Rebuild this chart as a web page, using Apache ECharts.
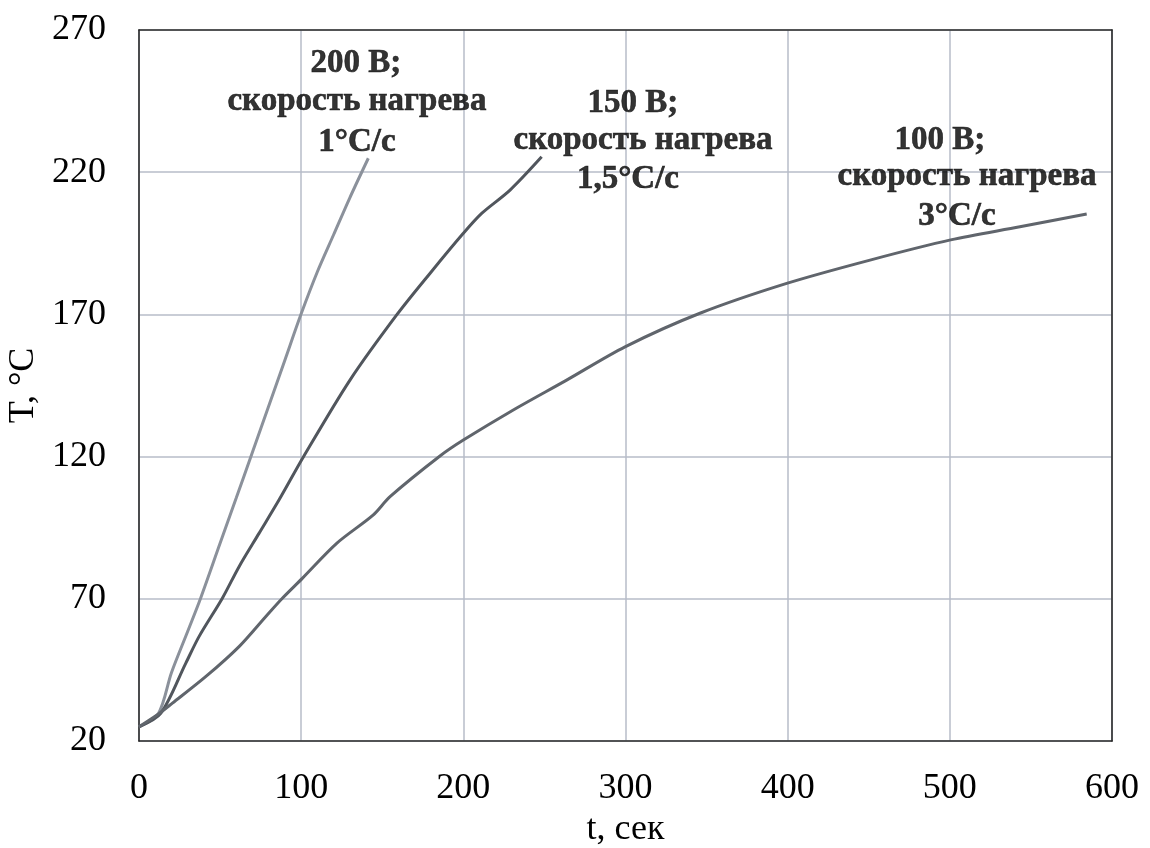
<!DOCTYPE html>
<html><head><meta charset="utf-8">
<script src="https://cdn.jsdelivr.net/npm/echarts@6/dist/echarts.min.js"></script>
<style>html,body{margin:0;padding:0;background:#fff}#c{width:1150px;height:848px}</style>
</head><body><div id="c"></div>
<script>
const xTicks = [0, 100, 200, 300, 400, 500, 600];
const yTicks = [20, 70, 120, 170, 220, 270];

const t200 = [0, 12, 20, 30, 38, 50, 60, 70, 80, 90, 100, 110, 120, 130, 141.4];
const T200 = [25, 29.7, 44, 58.5, 70.2, 89.5, 105.5, 121.6, 137.8, 154, 170.2, 185, 198, 211, 224.9];

const t150 = [0, 13.4, 28.8, 37, 51.4, 61.7, 74, 86.3, 101.7, 130.1, 158.9, 179.4, 200, 211.3, 228.8, 248.3];
const T150 = [25, 29.7, 47.3, 56.7, 70.2, 81.3, 93, 104.7, 120.2, 146.9, 169.8, 184.4, 198.5, 205.5, 213.7, 225.4];

const t100 = [0, 12, 20.6, 41.1, 61.7, 78.1, 88.4, 100.7, 121.9, 144.5, 154.8, 185.6, 200, 230.8, 263.7, 299.7, 345.9, 399.4, 450.8, 500.5, 543.2, 584.4];
const T100 = [25, 29.5, 33.3, 42.6, 53.2, 63.7, 70.2, 77.2, 89.5, 99.5, 105.9, 120.2, 125.8, 136.4, 146.9, 158.6, 170.4, 180.9, 189.1, 196.2, 200.8, 205.3];

// annotation lines: text, anchor t, anchor T
const noteText = ['200 В;', 'скорость нагрева', '1°C/с',
                  '150 В;', 'скорость нагрева', '1,5°C/с',
                  '100 В;', 'скорость нагрева', '3°C/с'];
const noteT    = [133.8, 134.4, 134.4, 304.6, 310.8, 301.5, 493.9, 510.6, 504.4];
const noteTemp = [258.4, 244.7, 230.6, 244.0, 231.3, 217.3, 231.3, 218.6, 204.6];

const zip = (a, b) => a.map((v, i) => [v, b[i]]);
const FONT = '"Liberation Serif", "Times New Roman", serif';

const chart = echarts.init(document.getElementById('c'));
const axisBase = {
  axisTick: { show: false },
  axisLine: { show: true, onZero: false, lineStyle: { color: '#2b2b2b', width: 1.6 } }
};
chart.setOption({
  animation: false,
  grid: { left: 139, right: 38, top: 30, bottom: 107, containLabel: false, outerBoundsMode: 'none' },
  xAxis: [
    Object.assign({}, axisBase, {
      type: 'value', min: xTicks[0], max: xTicks[xTicks.length - 1], interval: 100,
      name: 't, сек', nameLocation: 'middle', nameGap: 70,
      nameTextStyle: { fontFamily: FONT, fontSize: 36, color: '#000' },
      axisLabel: { fontFamily: FONT, fontSize: 36, color: '#000', margin: 30 },
      splitLine: { show: true, lineStyle: { color: '#b7bcc8', width: 1.5 } }
    }),
    Object.assign({}, axisBase, {
      type: 'value', position: 'top', min: 0, max: 600, axisLabel: { show: false }, splitLine: { show: false }
    })
  ],
  yAxis: [
    Object.assign({}, axisBase, {
      type: 'value', min: yTicks[0], max: yTicks[yTicks.length - 1], interval: 50,
      name: 'T, °C', nameLocation: 'middle', nameGap: 83,
      nameTextStyle: { fontFamily: FONT, fontSize: 36, color: '#000' },
      axisLabel: { fontFamily: FONT, fontSize: 36, color: '#000', margin: 33 },
      splitLine: { show: true, lineStyle: { color: '#b7bcc8', width: 1.5 } }
    }),
    Object.assign({}, axisBase, {
      type: 'value', position: 'right', min: 20, max: 270, axisLabel: { show: false }, splitLine: { show: false }
    })
  ],
  series: [
    { type: 'line', name: '200 В', data: zip(t200, T200), showSymbol: false, smooth: 0.3,
      lineStyle: { color: '#8b919b', width: 3 }, z: 3 },
    { type: 'line', name: '150 В', data: zip(t150, T150), showSymbol: false, smooth: 0.3,
      lineStyle: { color: '#51565d', width: 3 }, z: 3 },
    { type: 'line', name: '100 В', data: zip(t100, T100), showSymbol: false, smooth: 0.3,
      lineStyle: { color: '#60656c', width: 3 }, z: 3 },
    { type: 'scatter', symbolSize: 0, z: 4, silent: true,
      data: noteText.map((s, i) => ({ value: [noteT[i], noteTemp[i]], name: s })),
      label: { show: true, position: 'inside', formatter: p => p.name,
        fontFamily: FONT, fontSize: 33, fontWeight: 'bold', color: '#000',
        textBorderColor: '#000', textBorderWidth: 0.6, align: 'center', verticalAlign: 'middle' } }
  ]
});
</script></body></html>
